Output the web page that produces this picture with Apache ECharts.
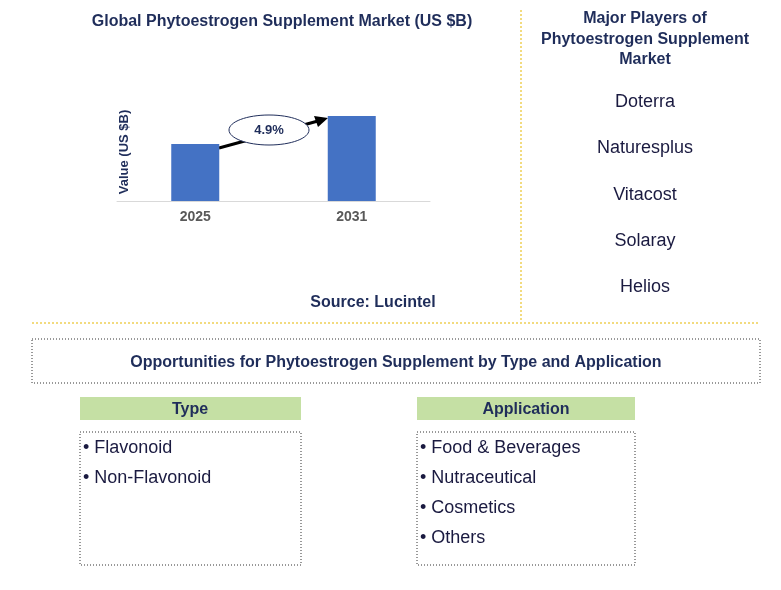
<!DOCTYPE html><html><head><meta charset="utf-8"><script src="https://cdn.jsdelivr.net/npm/echarts@6/dist/echarts.min.js"></script>
<style>html,body{margin:0;padding:0;background:#fff}#c{width:781px;height:590px}</style></head><body><div id="c"></div><script>
const categories=['2025','2031'];
const values=[1.88,2.8];
const cagr='4.9%';
const players=['Doterra','Naturesplus','Vitacost','Solaray','Helios'];
const types=['Flavonoid','Non-Flavonoid'];
const apps=['Food & Beverages','Nutraceutical','Cosmetics','Others'];
const navy='#1F2D5A', F='Arial, Liberation Sans, sans-serif';
const ch=echarts.init(document.getElementById('c'));
const g=[];
function t(x,y,s,o,rot){g.push({type:'text',x,y:y+2,rotation:rot||0,style:Object.assign({text:s,fill:navy,font:'bold 16px '+F,align:'center',verticalAlign:'middle'},o||{})});}
function r(x,y,w,h,o){g.push({type:'rect',shape:{x,y,width:w,height:h},style:Object.assign({fill:'none',stroke:'#333',lineWidth:1,lineDash:[1,2]},o||{})});}
t(282,20,'Global Phytoestrogen Supplement Market (US $B)');
g.push({type:'line',shape:{x1:521,y1:10,x2:521,y2:320},style:{stroke:'#E6B800',lineWidth:1,lineDash:[2,2]}});
g.push({type:'line',shape:{x1:32,y1:323,x2:758,y2:323},style:{stroke:'#E6B800',lineWidth:1,lineDash:[2,2]}});
['Major Players of','Phytoestrogen Supplement','Market'].forEach((s,i)=>t(645,17+i*20.5,s));
players.forEach((s,i)=>t(645,100+i*46.3,s,{font:'18px '+F,fill:'#1a1a40'}));
t(373,301,'Source: Lucintel');
r(32,339,728,44);
t(396,361,'Opportunities for Phytoestrogen Supplement by Type and Application');
r(80,397,221,23,{fill:'#C5E0A4',stroke:'none'});t(190,408,'Type');
r(417,397,218,23,{fill:'#C5E0A4',stroke:'none'});t(526,408,'Application');
r(80,432,221,133);r(417,432,218,133);
types.forEach((s,i)=>t(83,446+i*30,'• '+s,{font:'18px '+F,fill:'#1a1a40',align:'left'}));
apps.forEach((s,i)=>t(420,446+i*30,'• '+s,{font:'18px '+F,fill:'#1a1a40',align:'left'}));
t(124,150,'Value (US $B)',{font:'bold 13px '+F},Math.PI/2);
g.push({type:'line',shape:{x1:219,y1:148,x2:318,y2:121},style:{stroke:'#000',lineWidth:3}});
g.push({type:'polygon',shape:{points:[[328,118],[314,116],[318,127]]},style:{fill:'#000'}});
g.push({type:'ellipse',shape:{cx:269,cy:130,rx:40,ry:15},style:{fill:'#fff',stroke:navy,lineWidth:1}});
t(269,128,cagr,{font:'bold 13px '+F});
ch.setOption({animation:false,
grid:{left:117,right:351,top:116,bottom:389},
xAxis:{type:'category',data:categories,axisLine:{lineStyle:{color:'#d9d9d9'}},axisTick:{show:false},axisLabel:{color:'#595959',fontWeight:'bold',fontSize:14,fontFamily:F,margin:9}},
yAxis:{type:'value',min:0,max:2.8,show:false},
series:[{type:'bar',data:values,barWidth:48,itemStyle:{color:'#4472C4'}}],
graphic:g});
</script></body></html>
